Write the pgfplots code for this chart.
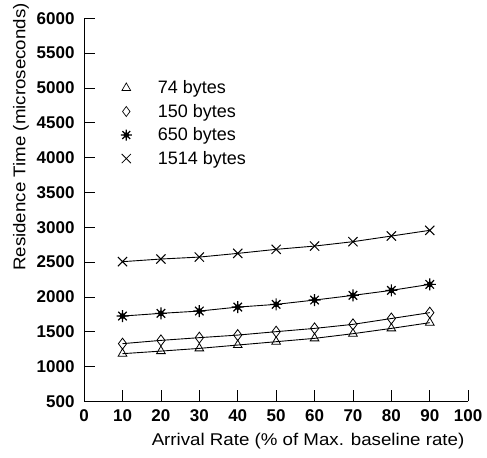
\documentclass[border=0pt]{standalone}
\usepackage{pgfplots}
\pgfplotsset{compat=1.18}
\usepackage{fontspec}
\setmainfont{Liberation Sans}
\newfontfamily\labelfont[FakeStretch=1.1]{Liberation Sans}
\pgfdeclareplotmark{burst}{%
 \pgfpathcircle{\pgfpointorigin}{0.38\pgfplotmarksize}\pgfusepathqfillstroke
 \pgfpathmoveto{\pgfqpoint{-\pgfplotmarksize}{0pt}}\pgfpathlineto{\pgfqpoint{\pgfplotmarksize}{0pt}}%
 \pgfpathmoveto{\pgfqpoint{0pt}{-\pgfplotmarksize}}\pgfpathlineto{\pgfqpoint{0pt}{\pgfplotmarksize}}%
 \pgfpathmoveto{\pgfqpoint{-.707\pgfplotmarksize}{-.707\pgfplotmarksize}}\pgfpathlineto{\pgfqpoint{.707\pgfplotmarksize}{.707\pgfplotmarksize}}%
 \pgfpathmoveto{\pgfqpoint{-.707\pgfplotmarksize}{.707\pgfplotmarksize}}\pgfpathlineto{\pgfqpoint{.707\pgfplotmarksize}{-.707\pgfplotmarksize}}%
 \pgfusepathqstroke}
\begin{document}
\begin{tikzpicture}
\begin{axis}[
  scale only axis, width=384pt, height=383pt,
  xmin=0, xmax=100, ymin=500, ymax=6000,
  axis lines=left, axis line style={-, line width=0.8pt},
  xtick={0,10,...,100}, ytick={500,1000,...,6000},
  tick align=inside, major tick length=11pt,
  tick style={line width=0.8pt, black},
  /pgf/number format/assume math mode=true,
  /pgf/number format/1000 sep={},
  ticklabel style={font=\fontsize{17}{19}\selectfont\bfseries},
  xticklabel style={yshift=-5pt},
  yticklabel style={xshift=-6pt},
  label style={font=\labelfont\fontsize{17}{19}\selectfont},
  xlabel={Arrival Rate (\% of Max. baseline rate)},
  ylabel={Residence Time (microseconds)},
  xlabel style={at={(ticklabel cs:0.583)}, yshift=-4pt},
  ylabel style={at={(ticklabel cs:0.69)}, yshift=1pt},
  clip=false,
  legend style={draw=none, fill=none, at={(rel axis cs:0.095,0.843)}, anchor=north west,
    font=\fontsize{18}{20}\selectfont, row sep=5pt, inner sep=0pt,
    /tikz/every odd column/.append style={column sep=24pt}},
  legend cell align=left,
  legend image code/.code={\draw[#1] plot coordinates {(0cm,0cm)};},
]
\path (rel axis cs:-0.219,1.0366) rectangle (rel axis cs:1.049,-0.146);
\addplot[black, line width=0.9pt, mark=triangle, mark size=5pt, mark options={solid, line width=0.8pt}, forget plot]
 coordinates {(10,1185)(20,1222)(30,1261)(40,1309)(50,1357)(60,1405)(70,1472)(80,1548)(90,1630)};
\addplot[black, line width=0.9pt, mark=diamond, mark size=5.5pt, mark options={solid, line width=0.8pt, fill=white}, forget plot]
 coordinates {(10,1329)(20,1376)(30,1415)(40,1452)(50,1501)(60,1548)(70,1606)(80,1690)(90,1774)};
\addplot[black, line width=0.9pt, mark=burst, mark size=6pt, mark options={solid, line width=1.2pt, fill=black}, forget plot]
 coordinates {(10,1725)(20,1764)(30,1797)(40,1854)(50,1893)(60,1955)(70,2022)(80,2094)(90,2180)};
\addplot[black, line width=0.9pt, mark=x, mark size=6.5pt, mark options={solid, line width=1pt}, forget plot]
 coordinates {(10,2506)(20,2544)(30,2572)(40,2625)(50,2683)(60,2730)(70,2793)(80,2874)(90,2956)};
\addlegendimage{only marks, black, mark=triangle, mark size=5pt, mark options={line width=0.7pt}}
\addlegendentry{74 bytes}
\addlegendimage{only marks, black, mark=diamond, mark size=5pt, mark options={line width=0.7pt}}
\addlegendentry{150 bytes}
\addlegendimage{only marks, black, mark=burst, mark size=5.5pt, mark options={line width=1.2pt, fill=black}}
\addlegendentry{650 bytes}
\addlegendimage{only marks, black, mark=x, mark size=6.5pt, mark options={line width=0.8pt}}
\addlegendentry{1514 bytes}
\end{axis}
\end{tikzpicture}
\end{document}
